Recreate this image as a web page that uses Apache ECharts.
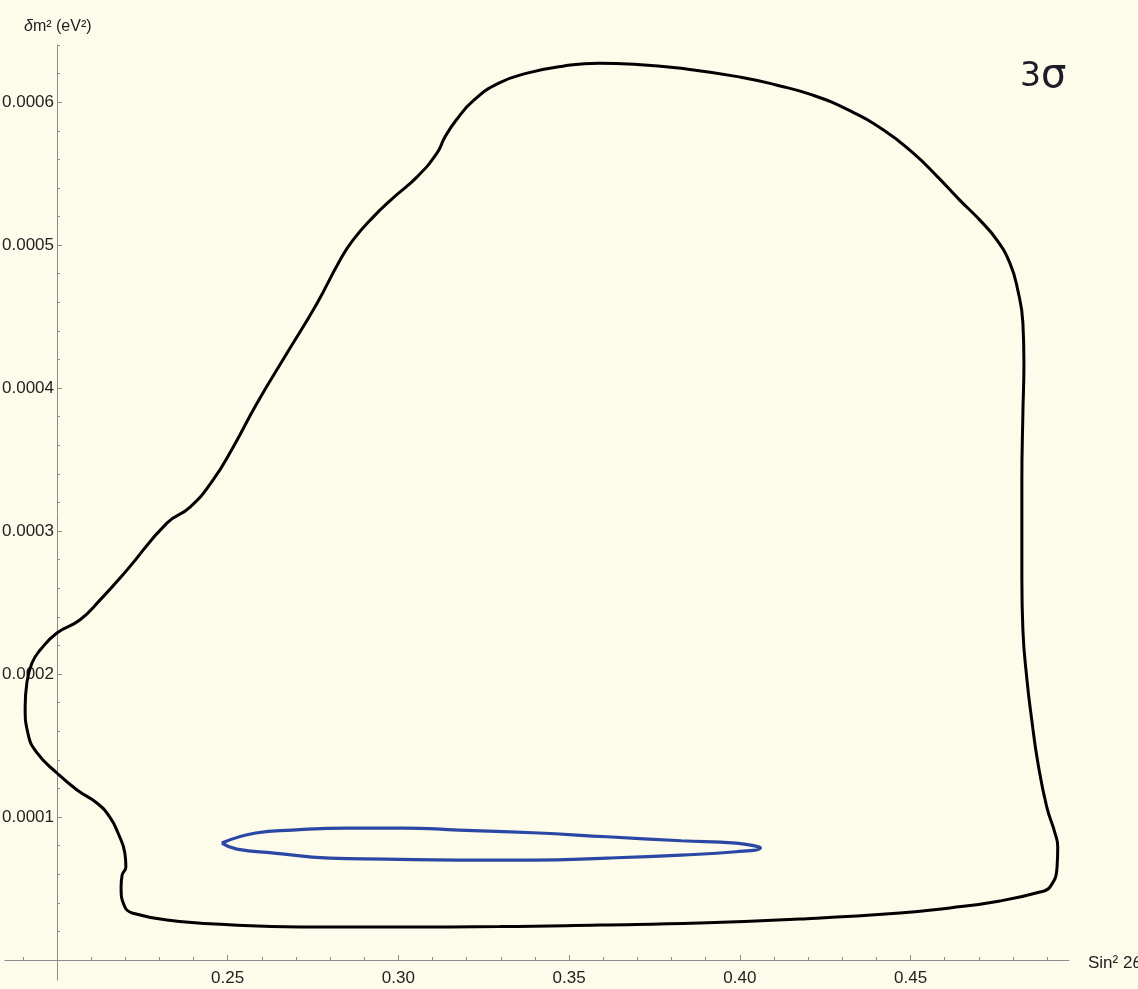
<!DOCTYPE html>
<html>
<head>
<meta charset="utf-8">
<script src="https://cdn.jsdelivr.net/npm/echarts@6/dist/echarts.min.js"></script>
<style>
html,body{margin:0;padding:0;background:#FDFBEA;}
#chart{width:1138px;height:989px;}
</style>
</head>
<body>
<div id="chart"></div>
<script>
// ---- data (Sin^2 2θ, δm^2 in eV^2) ----
const contourX = [0.2220,0.2199,0.2188,0.2191,0.2202,0.2199,0.2179,0.2155,0.2117,0.2059,0.2000,0.1942,0.1915,0.1907,0.1912,0.1927,0.1951,0.2000,0.2067,0.2126,0.2205,0.2322,0.2390,0.2457,0.2516,0.2586,0.2674,0.2762,0.2829,0.2867,0.2926,0.2984,0.3054,0.3113,0.3136,0.3169,0.3221,0.3294,0.3377,0.3482,0.3587,0.3690,0.3848,0.4003,0.4109,0.4214,0.4319,0.4422,0.4508,0.4580,0.4644,0.4703,0.4753,0.4791,0.4814,0.4829,0.4832,0.4829,0.4826,0.4826,0.4829,0.4841,0.4855,0.4873,0.4899,0.4923,0.4931,0.4929,0.4908,0.4879,0.4762,0.4615,0.4469,0.4176,0.3883,0.3590,0.3298,0.3005,0.2712,0.2516,0.2322,0.2220];
const contourY = [3.29e-5,3.71e-5,5.10e-5,5.94e-5,6.50e-5,7.48e-5,8.88e-5,1.000e-4,1.098e-4,1.189e-4,1.308e-4,1.448e-4,1.587e-4,1.769e-4,1.937e-4,2.077e-4,2.168e-4,2.287e-4,2.378e-4,2.517e-4,2.727e-4,3.056e-4,3.168e-4,3.357e-4,3.587e-4,3.895e-4,4.245e-4,4.594e-4,4.895e-4,5.035e-4,5.196e-4,5.329e-4,5.476e-4,5.643e-4,5.755e-4,5.874e-4,6.014e-4,6.133e-4,6.203e-4,6.252e-4,6.273e-4,6.266e-4,6.231e-4,6.175e-4,6.119e-4,6.049e-4,5.944e-4,5.804e-4,5.643e-4,5.476e-4,5.315e-4,5.175e-4,5.035e-4,4.874e-4,4.685e-4,4.455e-4,4.175e-4,3.825e-4,3.357e-4,2.657e-4,2.308e-4,1.958e-4,1.678e-4,1.378e-4,1.070e-4,8.88e-5,7.90e-5,6.50e-5,5.10e-5,4.76e-5,4.13e-5,3.64e-5,3.29e-5,2.87e-5,2.59e-5,2.45e-5,2.34e-5,2.31e-5,2.31e-5,2.45e-5,2.80e-5,3.29e-5];
const ellipseX = [0.2483,0.2582,0.2690,0.2852,0.3015,0.3177,0.3394,0.3611,0.3828,0.3989,0.4055,0.4060,0.3989,0.3828,0.3611,0.3394,0.3177,0.2961,0.2798,0.2636,0.2527,0.2483];
const ellipseY = [8.18e-5,8.88e-5,9.09e-5,9.23e-5,9.23e-5,9.09e-5,8.90e-5,8.62e-5,8.34e-5,8.18e-5,7.92e-5,7.83e-5,7.57e-5,7.34e-5,7.13e-5,6.99e-5,6.99e-5,7.06e-5,7.13e-5,7.48e-5,7.76e-5,8.18e-5];
const xMajorTicks = [0.25,0.30,0.35,0.40,0.45];
const xMinorTicks = [0.19,0.21,0.22,0.23,0.24,0.26,0.27,0.28,0.29,0.31,0.32,0.33,0.34,0.36,0.37,0.38,0.39,0.41,0.42,0.43,0.44,0.46,0.47,0.48,0.49];
const yMajorTicks = [0.0001,0.0002,0.0003,0.0004,0.0005,0.0006];
const yMinorTicks = [0.00002,0.00004,0.00006,0.00008,0.00012,0.00014,0.00016,0.00018,0.00022,0.00024,0.00026,0.00028,0.00032,0.00034,0.00036,0.00038,0.00042,0.00044,0.00046,0.00048,0.00052,0.00054,0.00056,0.00058,0.00062,0.00064];
const xRange = [0.1848, 0.4964];     // horizontal axis extent
const xCross = 0.2;                  // vertical axis sits at this x
const yRange = [0, 0.00064];         // data area
const yAxisRange = [-0.000014, 0.00064]; // vertical axis extent (runs a little below 0)

const FONT = "'Liberation Sans',Arial,sans-serif";
const AX = '#8c8c8c';
const pts = (xs, ys) => xs.map((x, i) => [x, ys[i]]);
const OB = { left: -400, top: -400, right: -400, bottom: -400 };

const chart = echarts.init(document.getElementById('chart'));
chart.setOption({
  animation: false,
  backgroundColor: '#FDFBEA',
  title: [
    { text: '{i|δ}m² (eV²)', left: 19, top: 14,
      textStyle: { fontFamily: FONT, fontSize: 16, fontWeight: 'normal', color: '#222',
        rich: { i: { fontFamily: FONT, fontSize: 16, fontWeight: 'normal', fontStyle: 'italic', color: '#222' } } } },
    { text: '{a|3}{b|σ}', left: 1015, top: 52,
      textStyle: { fontWeight: 'normal', rich: {
        a: { fontFamily: "'DejaVu Sans',sans-serif", fontSize: 33, fontWeight: 'normal', color: '#1c1c28' },
        b: { fontFamily: "'DejaVu Sans',sans-serif", fontSize: 40, fontWeight: 'normal', color: '#1c1c28' } } } }
  ],
  grid: [
    // grid 0: data + horizontal axis (bottom edge is y = 0)
    { left: 5, right: 1138 - 1069, top: 45, bottom: 989 - 960, containLabel: false, outerBounds: OB },
    // grid 1: carries only the vertical axis, left edge at x = 0.2
    { left: 57, right: 1138 - 1069, top: 45, bottom: 989 - 980, containLabel: false, outerBounds: OB }
  ],
  xAxis: [
    { type: 'value', gridIndex: 0, min: xRange[0], max: xRange[1], position: 'bottom',
      splitLine: { show: false },
      name: 'Sin² 2{i|θ}', nameLocation: 'end', nameGap: 19,
      nameTextStyle: { fontFamily: FONT, fontSize: 17, color: '#222', verticalAlign: 'middle', padding: [7, 0, 0, 0],
        rich: { i: { fontFamily: FONT, fontSize: 17, fontStyle: 'italic', color: '#222' } } },
      axisLine: { onZero: false, lineStyle: { color: AX, width: 1 } },
      axisTick: { inside: true, length: 5, lineStyle: { color: AX }, customValues: xMajorTicks },
      axisLabel: { customValues: xMajorTicks, margin: 10, fontFamily: FONT, fontSize: 17, color: '#222',
        formatter: v => v.toFixed(2) } },
    { type: 'value', gridIndex: 0, min: xRange[0], max: xRange[1], position: 'bottom',
      splitLine: { show: false },
      axisLine: { show: false, onZero: false },
      axisTick: { inside: true, length: 3, lineStyle: { color: AX }, customValues: xMinorTicks },
      axisLabel: { show: false } },
    { type: 'value', gridIndex: 1, min: xCross, max: xRange[1], show: false }
  ],
  yAxis: [
    { type: 'value', gridIndex: 0, min: yRange[0], max: yRange[1], show: false },
    { type: 'value', gridIndex: 1, min: yAxisRange[0], max: yAxisRange[1], position: 'left',
      splitLine: { show: false },
      axisLine: { onZero: false, lineStyle: { color: AX, width: 1 } },
      axisTick: { inside: true, length: 5, lineStyle: { color: AX }, customValues: yMajorTicks },
      axisLabel: { customValues: yMajorTicks, margin: 3, fontFamily: FONT, fontSize: 17, color: '#222',
        formatter: v => v.toFixed(4) } },
    { type: 'value', gridIndex: 1, min: yAxisRange[0], max: yAxisRange[1], position: 'left',
      splitLine: { show: false },
      axisLine: { show: false, onZero: false },
      axisTick: { inside: true, length: 3, lineStyle: { color: AX }, customValues: yMinorTicks },
      axisLabel: { show: false } }
  ],
  series: [
    { name: '3σ', type: 'line', xAxisIndex: 0, yAxisIndex: 0, data: pts(contourX, contourY),
      showSymbol: false, smooth: 0.5, clip: false, lineStyle: { color: '#000', width: 3 }, z: 3 },
    { name: 'best', type: 'line', xAxisIndex: 0, yAxisIndex: 0, data: pts(ellipseX, ellipseY),
      showSymbol: false, smooth: 0.5, clip: false, lineStyle: { color: '#2B47A5', width: 3.2 }, z: 4 }
  ]
});
</script>
</body>
</html>
